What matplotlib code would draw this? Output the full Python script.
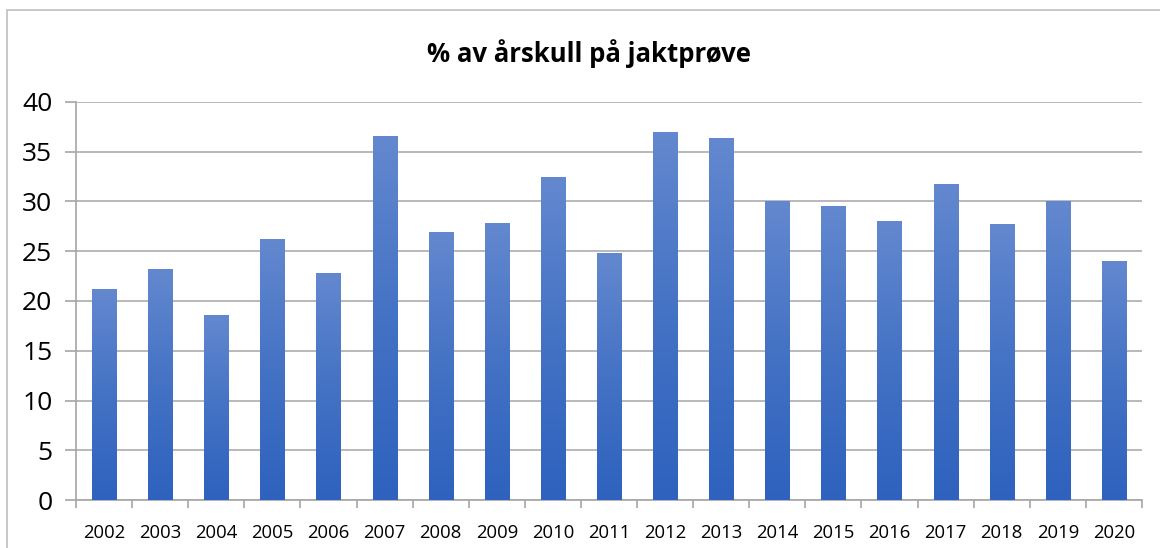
import numpy as np
import matplotlib.pyplot as plt
from matplotlib.colors import LinearSegmentedColormap
from matplotlib.patches import Rectangle

years = [str(y) for y in range(2002, 2021)]
values = [21.2, 23.2, 18.5, 26.2, 22.8, 36.5, 26.9, 27.8, 32.4, 24.8,
          36.9, 36.3, 30.0, 29.5, 28.0, 31.7, 27.7, 30.0, 24.0]
y_ticks = [0, 5, 10, 15, 20, 25, 30, 35, 40]

plt.rcParams['font.family'] = ['Open Sans', 'DejaVu Sans']

fig = plt.figure(figsize=(11.6, 5.48), dpi=100)
ax = fig.add_axes([76 / 1160, 48 / 548, (1142 - 76) / 1160, (500 - 102) / 548])

x = np.arange(len(years))
bars = ax.bar(x, values, width=0.43, color='none', edgecolor='none', zorder=3)

# gradient fill, lighter at top
cmap = LinearSegmentedColormap.from_list('bluegrad', ['#2e62be', '#4472c4', '#6388cf'])
grad = np.linspace(0, 1, 256).reshape(-1, 1)
for b in bars:
    bx, bw, bh = b.get_x(), b.get_width(), b.get_height()
    ax.imshow(grad, extent=[bx, bx + bw, 0, bh], origin='lower', aspect='auto',
              cmap=cmap, zorder=3)

ax.set_xlim(-0.5, len(years) - 0.5)
ax.set_ylim(0, 40)
ax.set_yticks(y_ticks)
ax.set_xticks(x)
ax.set_xticklabels(years)
ax.set_xticks(np.arange(-0.5, len(years), 1), minor=True)

ax.grid(axis='y', color='#b3b3b3', linewidth=1.3, zorder=0)
for s in ['top', 'right']:
    ax.spines[s].set_visible(False)
for s in ['left', 'bottom']:
    ax.spines[s].set_color('#a6a6a6')
    ax.spines[s].set_linewidth(1.2)

ax.tick_params(axis='x', which='major', length=0, pad=17, labelsize=13.3, colors='black')
ax.tick_params(axis='x', which='minor', length=6, color='#a6a6a6', width=1.2)
ax.tick_params(axis='y', length=8, color='#a6a6a6', width=1.2, pad=9, labelsize=19)

fig.text(589 / 1160, 1 - 54 / 548, '% av årskull på jaktprøve', ha='center', va='center',
         fontsize=18.5, fontweight='bold')

fig.patches.append(Rectangle((7 / 1160, -0.1), 1.2, 1 - 10 / 548 + 0.1, transform=fig.transFigure,
                             fill=False, edgecolor='#bfbfbf', linewidth=1.2))

fig.savefig('out.png', dpi=100)
